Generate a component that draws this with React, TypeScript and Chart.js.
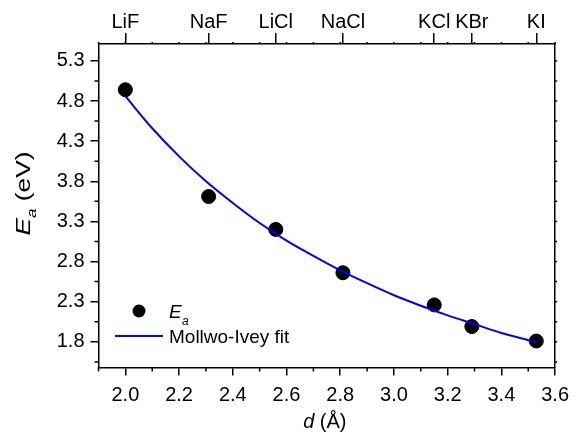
import React, { useEffect, useRef } from "react";
import { Chart, registerables } from "chart.js";

Chart.register(...registerables);

// ---- data ----
const salts = ["LiF", "NaF", "LiCl", "NaCl", "KCl", "KBr", "KI"];
const dValues = [2.0, 2.31, 2.56, 2.81, 3.15, 3.29, 3.53];
const eValues = [4.94, 3.61, 3.2, 2.66, 2.26, 1.99, 1.81];
const fitD = [2.0, 2.1, 2.2, 2.3, 2.4, 2.5, 2.6, 2.7, 2.8, 2.9, 3.0, 3.1, 3.2, 3.3, 3.4, 3.5, 3.53];
const fitE = [4.86, 4.46, 4.11, 3.8, 3.53, 3.28, 3.06, 2.87, 2.69, 2.53, 2.38, 2.25, 2.13, 2.02, 1.91, 1.82, 1.79];
const xTicks = [2.0, 2.2, 2.4, 2.6, 2.8, 3.0, 3.2, 3.4, 3.6];
const yTicks = [1.8, 2.3, 2.8, 3.3, 3.8, 4.3, 4.8, 5.3];
const xMin = 1.9, xMax = 3.6, yMin = 1.48, yMax = 5.51;

const FONT = "'Liberation Sans', Arial, sans-serif";

const extrasPlugin = {
  id: "extras",
  afterDraw(chart: any) {
    const ctx = chart.ctx;
    const xs = chart.scales.x, ys = chart.scales.y;
    const { left, right, top, bottom } = chart.chartArea;
    ctx.save();
    ctx.strokeStyle = "#000";
    ctx.lineWidth = 1.5;
    // minor ticks bottom & top
    for (let i = 0; i <= 17; i++) {
      const v = xMin + i * 0.1;
      const px = xs.getPixelForValue(v);
      const isMajor = xTicks.some((t) => Math.abs(t - v) < 1e-6);
      ctx.beginPath();
      if (!isMajor) {
        ctx.moveTo(px, bottom);
        ctx.lineTo(px, bottom + 4);
      }
      ctx.moveTo(px, top);
      ctx.lineTo(px, top - 2);
      ctx.stroke();
    }
    // minor ticks left & right
    for (let i = 0; i < 20; i++) {
      const v = 1.55 + i * 0.25;
      if (v > yMax) break;
      const py = ys.getPixelForValue(v);
      const isMajor = yTicks.some((t) => Math.abs(t - v) < 1e-6);
      ctx.beginPath();
      if (!isMajor) {
        ctx.moveTo(left, py);
        ctx.lineTo(left - 4, py);
      }
      ctx.moveTo(right, py);
      ctx.lineTo(right + 2, py);
      ctx.stroke();
    }
    ctx.restore();

    // y axis title
    ctx.save();
    ctx.fillStyle = "#000";
    ctx.textBaseline = "alphabetic";
    ctx.translate(29.5, 193.5);
    ctx.rotate(-Math.PI / 2);
    ctx.font = `italic 20px ${FONT}`;
    const wE = ctx.measureText("E").width;
    ctx.font = `italic 13px ${FONT}`;
    const wa = ctx.measureText("a").width;
    ctx.font = `20px ${FONT}`;
    const wRest = ctx.measureText(" (eV)").width;
    const total = wE + wa + wRest;
    ctx.scale(84 / total, 1);
    const x0 = -total / 2;
    ctx.font = `italic 20px ${FONT}`;
    ctx.fillText("E", x0, 0);
    ctx.font = `italic 13px ${FONT}`;
    ctx.fillText("a", x0 + wE, 6);
    ctx.font = `20px ${FONT}`;
    ctx.fillText(" (eV)", x0 + wE + wa, 0);
    ctx.restore();

    // x axis title
    ctx.save();
    ctx.fillStyle = "#000";
    ctx.textBaseline = "alphabetic";
    ctx.font = `italic 20px ${FONT}`;
    const wd = ctx.measureText("d").width;
    ctx.font = `20px ${FONT}`;
    const wr = ctx.measureText(" (Å)").width;
    const cx = (left + right) / 2 - 2;
    const sx = cx - (wd + wr) / 2;
    ctx.font = `italic 20px ${FONT}`;
    ctx.fillText("d", sx, 428);
    ctx.font = `20px ${FONT}`;
    ctx.fillText(" (Å)", sx + wd, 428);
    ctx.restore();

    // legend
    ctx.save();
    ctx.fillStyle = "#000";
    ctx.beginPath();
    ctx.arc(139, 311, 6.5, 0, Math.PI * 2);
    ctx.fill();
    ctx.font = `italic 19px ${FONT}`;
    ctx.fillText("E", 169, 318);
    ctx.font = `italic 12px ${FONT}`;
    ctx.fillText("a", 182, 325);
    ctx.strokeStyle = "#0000ff";
    ctx.lineWidth = 2;
    ctx.beginPath();
    ctx.moveTo(115, 336);
    ctx.lineTo(163, 336);
    ctx.stroke();
    ctx.font = `19px ${FONT}`;
    ctx.fillStyle = "#000";
    ctx.fillText("Mollwo-Ivey fit", 169, 342.5);
    ctx.restore();
  },
};

export default function App() {
  const ref = useRef<HTMLCanvasElement>(null);
  useEffect(() => {
    if (!ref.current) return;
    const tickFont = { family: FONT, size: 20 };
    const chart = new Chart(ref.current, {
      type: "scatter",
      data: {
        datasets: [
          {
            type: "line",
            label: "Mollwo-Ivey fit",
            data: fitD.map((d, i) => ({ x: d, y: fitE[i] })),
            borderColor: "#0000ff",
            borderWidth: 2,
            pointRadius: 0,
            cubicInterpolationMode: "monotone",
            fill: false,
            xAxisID: "x",
            yAxisID: "y",
          } as any,
          {
            type: "scatter",
            label: "Ea",
            data: dValues.map((d, i) => ({ x: d, y: eValues[i] })),
            backgroundColor: "#000",
            borderColor: "#000",
            pointRadius: 7,
            xAxisID: "x",
            yAxisID: "y",
          },
        ],
      },
      options: {
        responsive: false,
        animation: false,
        devicePixelRatio: 1,
        layout: { padding: 0 },
        plugins: { legend: { display: false }, tooltip: { enabled: false } },
        scales: {
          x: {
            type: "linear",
            position: "bottom",
            min: xMin,
            max: xMax,
            afterBuildTicks: (s: any) => {
              s.ticks = xTicks.map((v) => ({ value: v }));
            },
            afterFit: (s: any) => {
              s.height = 69.5;
            },
            grid: { drawOnChartArea: false, color: "#000", lineWidth: 1.5, tickLength: 8 },
            border: { display: true, color: "#000", width: 1.5 },
            ticks: {
              color: "#000",
              font: tickFont,
              padding: 8,
              maxRotation: 0,
              autoSkip: false,
              callback: (v: any) => Number(v).toFixed(1),
            },
          },
          x2: {
            type: "linear",
            position: "top",
            min: xMin,
            max: xMax,
            afterBuildTicks: (s: any) => {
              s.ticks = dValues.map((v) => ({ value: v }));
            },
            afterFit: (s: any) => {
              s.height = 44;
            },
            grid: { drawOnChartArea: false, color: "#000", lineWidth: 1.5, tickLength: 11 },
            border: { display: true, color: "#000", width: 1.5 },
            ticks: {
              color: "#000",
              font: tickFont,
              padding: -1,
              maxRotation: 0,
              autoSkip: false,
              callback: (_v: any, i: number) => salts[i],
            },
          },
          y: {
            type: "linear",
            position: "left",
            min: yMin,
            max: yMax,
            afterBuildTicks: (s: any) => {
              s.ticks = yTicks.map((v) => ({ value: v }));
            },
            afterFit: (s: any) => {
              s.width = 98.5;
            },
            grid: { drawOnChartArea: false, color: "#000", lineWidth: 1.5, tickLength: 8 },
            border: { display: true, color: "#000", width: 1.5 },
            ticks: {
              color: "#000",
              font: tickFont,
              padding: 6,
              autoSkip: false,
              callback: (v: any) => Number(v).toFixed(1),
            },
          },
          y2: {
            type: "linear",
            position: "right",
            min: yMin,
            max: yMax,
            afterFit: (s: any) => {
              s.width = 20;
            },
            grid: { drawOnChartArea: false, drawTicks: false },
            border: { display: true, color: "#000", width: 1.5 },
            ticks: { display: false },
          },
        },
      },
      plugins: [extrasPlugin],
    });
    return () => chart.destroy();
  }, []);
  return (
    <div style={{ position: "absolute", left: 0, top: 0, width: 577, height: 437, background: "#fff" }}>
      <canvas ref={ref} width={577} height={437} style={{ width: 577, height: 437, display: "block" }} />
    </div>
  );
}
